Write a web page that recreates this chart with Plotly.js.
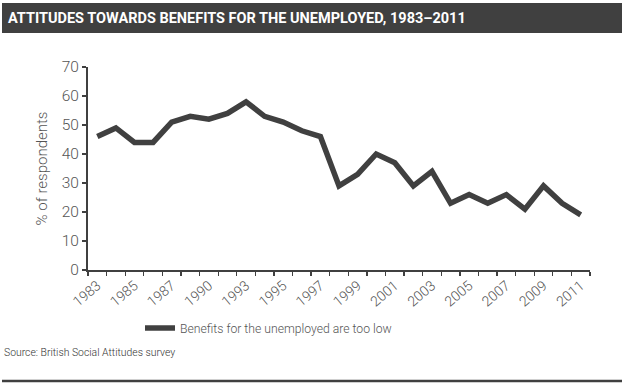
<!DOCTYPE html>
<html>
<head>
<meta charset="utf-8">
<script src="https://cdn.plot.ly/plotly-3.0.1.min.js"></script>
<style>html,body{margin:0;padding:0;background:#fff;}#chart{width:625px;height:385px;}</style>
</head>
<body>
<div id="chart"></div>
<script>
const years = ["1983","1984","1985","1986","1987","1989","1990","1991","1993","1994","1995","1996","1997","1998","1999","2000","2001","2002","2003","2004","2005","2006","2007","2008","2009","2010","2011"];
const tooLow = [46,49,44,44,51,53,52,54,58,53,51,48,46,29,33,40,37,29,34,23,26,23,26,21,29,23,19];
const tickLabels = ["1983","","1985","","1987","","1990","","1993","","1995","","1997","","1999","","2001","","2003","","2005","","2007","","2009","","2011"];
const seriesName = "Benefits for the unemployed are too low";
const chartTitle = "ATTITUDES TOWARDS BENEFITS FOR THE UNEMPLOYED, 1983–2011";
const yTitle = "% of respondents";
const sourceText = "Source: British Social Attitudes survey";

const L = 88, R = 590, T = 67, B = 270, W = 625, H = 385;
const px = X => (X - L) / (R - L);
const py = Y => (B - Y) / (B - T);
const grayFont = 'Roboto, Liberation Sans, Arial, sans-serif';

const trace = {
  x: years, y: tooLow, type: 'scatter', mode: 'lines', name: seriesName,
  line: {color: '#404040', width: 5.5, shape: 'linear'},
  hoverinfo: 'x+y'
};

const layout = {
  width: W, height: H,
  margin: {l: L, r: W - R, t: T, b: H - B, pad: 0},
  paper_bgcolor: '#fff', plot_bgcolor: '#fff',
  font: {family: grayFont, color: '#555', weight: 300},
  title: {text: chartTitle, x: 8 / W, xanchor: 'left', xref: 'container', y: 1 - 18 / H, yanchor: 'middle', yref: 'container',
          font: {family: 'Roboto, Liberation Sans, Arial, sans-serif', size: 14.5, color: '#fff', weight: 'bold'}},
  xaxis: {type: 'category', range: [-0.5, years.length - 0.5], tickmode: 'array', tickvals: years, ticktext: tickLabels,
          tickson: 'boundaries', ticks: 'outside', ticklen: 4, tickwidth: 1.3, tickcolor: '#404040',
          showline: true, linecolor: '#404040', linewidth: 2, showgrid: false, zeroline: false,
          tickangle: -40, tickfont: {family: grayFont, size: 14, color: '#555', weight: 300}, fixedrange: true},
  yaxis: {range: [0, 70], dtick: 10, ticks: 'outside', ticklen: 4, tickwidth: 1.3, tickcolor: '#404040',
          showline: true, linecolor: '#404040', linewidth: 2, showgrid: false, zeroline: false,
          tickfont: {family: grayFont, size: 15.5, color: '#555', weight: 300},
          title: {text: yTitle, font: {family: grayFont, size: 15, color: '#555', weight: 300}, standoff: 10}, fixedrange: true},
  showlegend: true,
  legend: {orientation: 'h', x: px(140), xanchor: 'left', y: py(328), yanchor: 'middle',
           font: {family: grayFont, size: 12.2, color: '#555', weight: 300}, bgcolor: 'rgba(0,0,0,0)'},
  shapes: [
    {type: 'rect', xref: 'paper', yref: 'paper', x0: px(2), x1: px(622), y0: py(33), y1: py(3),
     fillcolor: '#404040', line: {width: 0}, layer: 'below'},
    {type: 'line', xref: 'paper', yref: 'paper', x0: px(2), x1: px(622), y0: py(381), y1: py(381),
     line: {color: '#404040', width: 2.5}}
  ],
  annotations: [
    {text: sourceText, xref: 'paper', yref: 'paper', x: px(2), xanchor: 'left', y: py(352), yanchor: 'middle',
     showarrow: false, font: {family: grayFont, size: 10.4, color: '#333', weight: 300}}
  ]
};

Plotly.newPlot('chart', [trace], layout, {displayModeBar: false, staticPlot: true});
</script>
</body>
</html>
